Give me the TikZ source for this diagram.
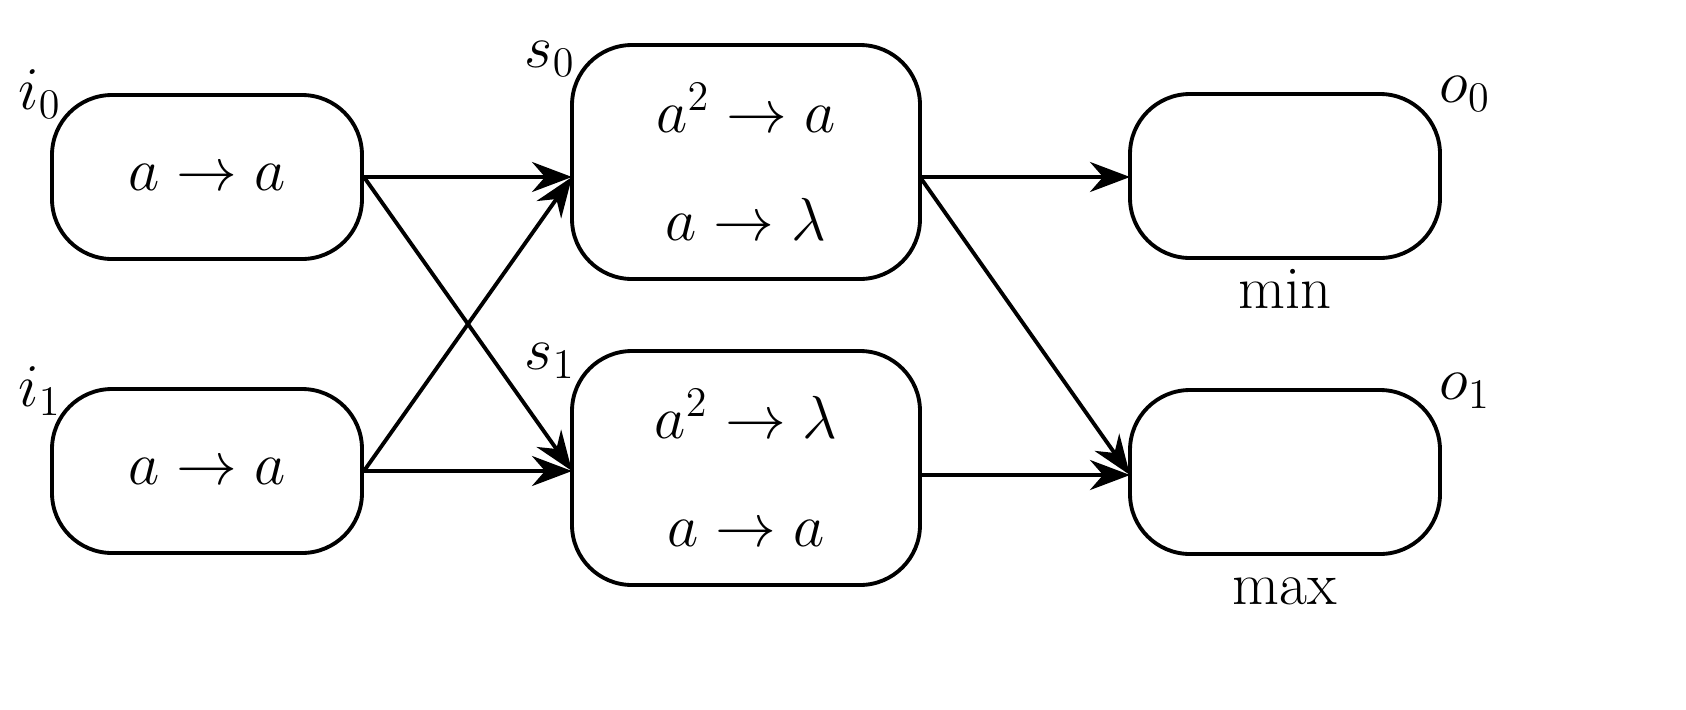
\documentclass[tikz,border=0pt]{standalone}
\usetikzlibrary{arrows.meta}
\begin{document}
\begin{tikzpicture}
[
 every node/.style ={font=\LARGE},
 MEMB/.style={rectangle, draw=black, line width=1.1pt, rounded corners=6mm},
 SMALL/.style={minimum width=31mm, minimum height=16.4mm},
 BIG/.style={minimum width=34.8mm, minimum height=23.4mm, align=center},
 ARR/.style={-{Stealth[length=4mm,width=3mm]}, line width=1.1pt},
 ]
%
\useasboundingbox (0,0) rectangle (16.86,7.09);
%
\node [MEMB,SMALL]  (i0)  at ( 2.07, 5.32)  {$a \rightarrow a$};
\node [MEMB,SMALL]  (i1)  at ( 2.07, 2.38)  {$a \rightarrow a$};
\node [MEMB,BIG]    (s0)  at ( 7.46, 5.47)  {$a^2 \rightarrow a$\\[3mm]$a \rightarrow \lambda$};
\node [MEMB,BIG]    (s1)  at ( 7.46, 2.41)  {$a^2 \rightarrow \lambda$\\[3mm]$a \rightarrow a$};
\node [MEMB,SMALL]  (o0)  at (12.85, 5.33)  {};
\node [MEMB,SMALL]  (o1)  at (12.85, 2.37)  {};
%
\node (li0) at (0.40, 6.15) {$i_0$};
\node (li1) at (0.40, 3.18) {$i_1$};
\node (ls0) at (5.50, 6.50) {$s_0$};
\node (ls1) at (5.50, 3.48) {$s_1$};
\node (lo0) at (14.65, 6.15) {$o_0$};
\node (lo1) at (14.65, 3.18) {$o_1$};
\node (lmin) at (12.85, 4.20) {min};
\node (lmax) at (12.85, 1.18) {max};
%
\coordinate (s0in)  at (5.72, 5.32);
\coordinate (s1in)  at (5.72, 2.38);
\coordinate (o0in)  at (11.30, 5.32);
\coordinate (o1in)  at (11.30, 2.34);
\coordinate (s0out) at (9.20, 5.32);
\coordinate (s1out) at (9.20, 2.34);
%
\draw [ARR]  (i0.east)  -- (s0in) ;
\draw [ARR]  (i0.east)  -- (s1in) ;
\draw [ARR]  (i1.east)  -- (s0in) ;
\draw [ARR]  (i1.east)  -- (s1in) ;
\draw [ARR]  (s0out)    -- (o0in) ;
\draw [ARR]  (s0out)    -- (o1in) ;
\draw [ARR]  (s1out)    -- (o1in) ;
%
\end{tikzpicture}
\end{document}
